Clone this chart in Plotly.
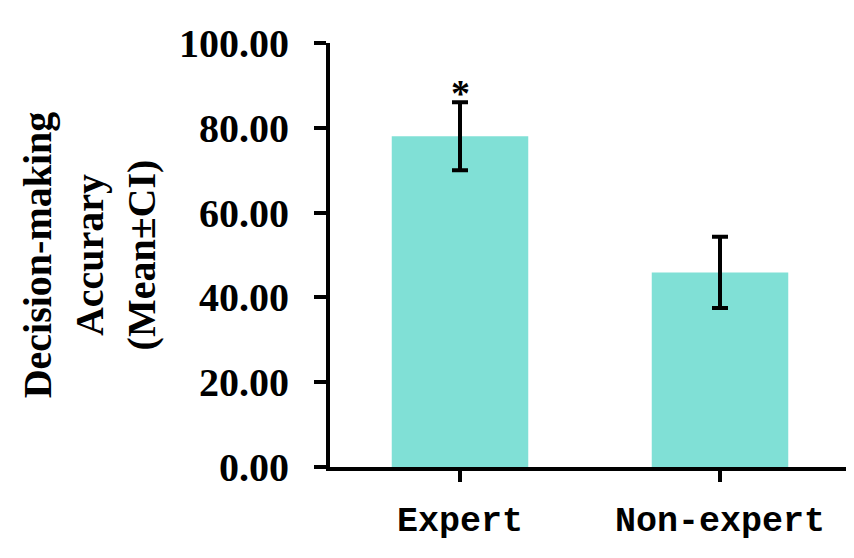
import plotly.graph_objects as go

categories = ["Expert", "Non-expert"]
means = [78.0, 45.9]
ci = [8.0, 8.4]
y_ticks = [0, 20, 40, 60, 80, 100]
y_tick_labels = ["0.00", "20.00", "40.00", "60.00", "80.00", "100.00"]
significance = ["*", ""]

fig = go.Figure()
fig.add_trace(go.Bar(
    x=categories, y=means,
    marker=dict(color="#80E0D6", line=dict(width=0)),
    error_y=dict(type="data", array=ci, visible=True, color="black", thickness=4, width=8),
))

for cat, m, c, s in zip(categories, means, ci, significance):
    if s:
        fig.add_annotation(x=cat, y=m + c, text=s, showarrow=False, yanchor="bottom", yshift=-14,
                           font=dict(family="Liberation Serif", size=38, color="black", weight="bold"))

# end tick at right side of x axis
fig.add_shape(type="line", xref="x", yref="y", x0=1.5, x1=1.5, ysizemode="pixel", yanchor=0,
              y0=0, y1=-11, line=dict(color="black", width=4))

# page body has an 8px default margin, so margins are shifted to compensate
fig.update_layout(
    width=854, height=558,
    margin=dict(l=322, r=12, t=35, b=99),
    paper_bgcolor="white", plot_bgcolor="white",
    bargap=0.475,
    showlegend=False,
    xaxis=dict(
        range=[-0.5, 1.5], showline=True, linecolor="black", linewidth=4,
        ticks="outside", ticklen=11, tickwidth=4, tickcolor="black",
        tickfont=dict(family="Liberation Mono", size=35, color="black", weight="bold"),
        showgrid=False, zeroline=False, automargin=False, ticklabelstandoff=7,
    ),
    yaxis=dict(
        range=[0, 100], tickvals=y_ticks, ticktext=y_tick_labels,
        showline=True, linecolor="black", linewidth=4,
        ticks="outside", ticklen=12, tickwidth=4, tickcolor="black",
        tickfont=dict(family="Liberation Serif", size=40, color="black", weight="bold"),
        showgrid=False, zeroline=False, automargin=False, ticklabelstandoff=17,
        title=dict(text="Decision-making<br>Accurary<br>(Mean±CI)", standoff=12,
                   font=dict(family="Liberation Serif", size=40, color="black", weight="bold")),
    ),
)

fig.write_html("out.html")
